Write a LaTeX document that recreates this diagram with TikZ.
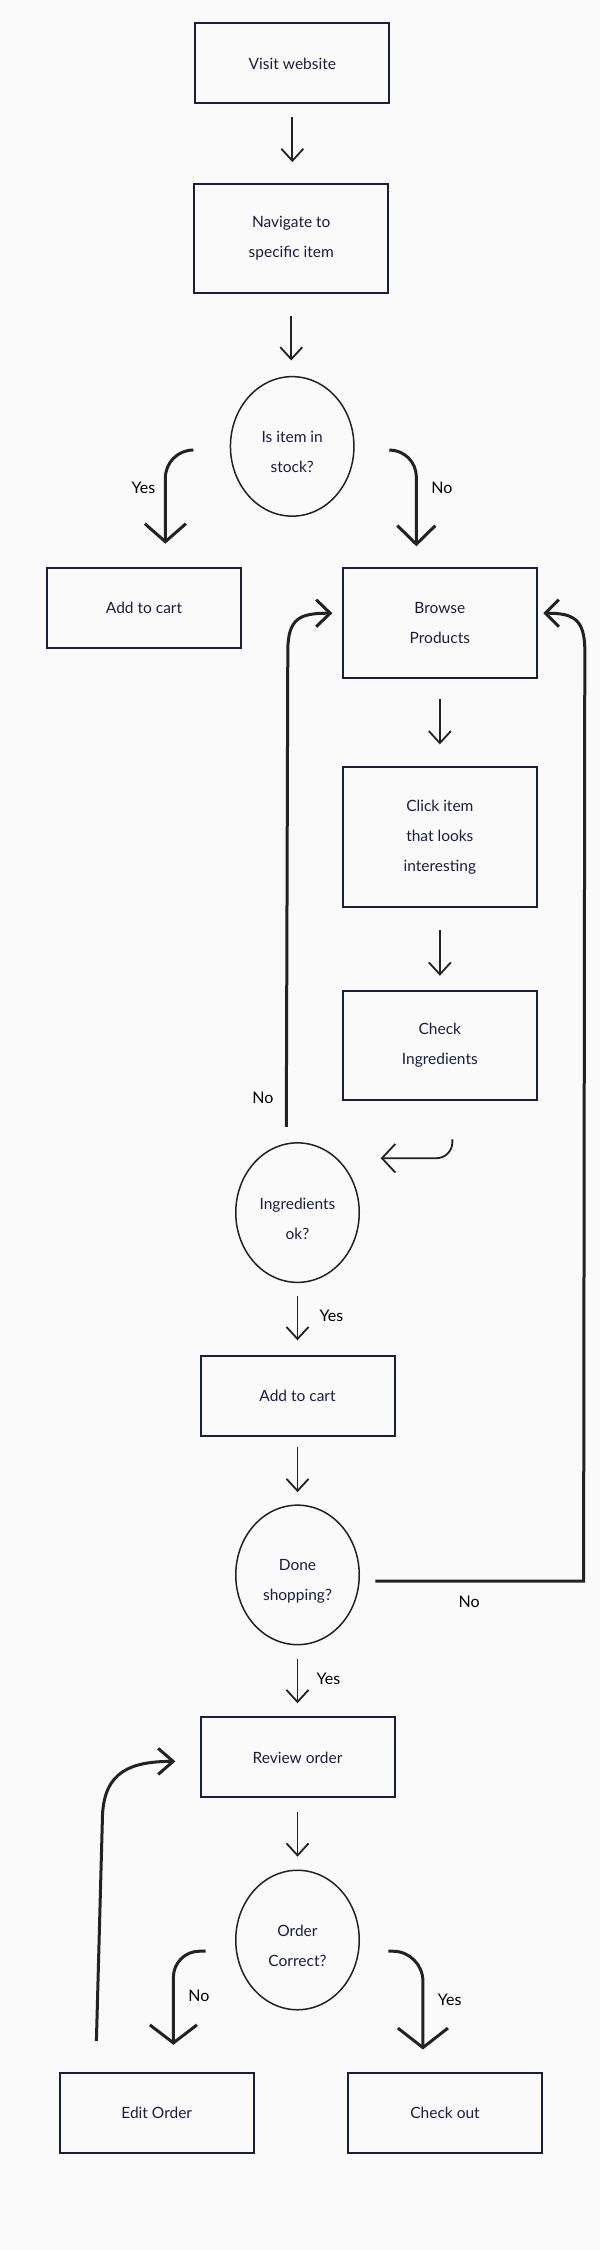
\documentclass[tikz,border=0pt]{standalone}
\usepackage{fontspec}
\setmainfont{Lato}
\usetikzlibrary{arrows.meta,calc,shapes.geometric}
\definecolor{bg}{HTML}{FAFAFA}
\definecolor{navy}{HTML}{1B1D3D}
\definecolor{ink}{HTML}{222222}
\begin{document}
\begin{tikzpicture}[x=1pt,y=-1pt,
  box/.style={draw=navy,line width=2pt,minimum width=194pt,minimum height=80pt,inner sep=0pt,text=navy,font=\fontsize{15.5}{30}\selectfont,align=center},
  dec/.style={draw=ink,line width=1.5pt,ellipse,minimum width=123.5pt,minimum height=139.5pt,inner sep=0pt},
  dectext/.style={text=navy,font=\fontsize{15.5}{30}\selectfont,align=center,inner sep=0pt},
  lbl/.style={text=black,font=\fontsize{16}{18}\selectfont,inner sep=0pt},
  thin/.style={draw=ink,line width=1.8pt,-{Straight Barb[length=12pt,width=22pt]}},
  thick/.style={draw=ink,line width=3pt}
]
\fill[bg] (0,0) rectangle (600,2250);
\useasboundingbox (0,0) rectangle (600,2250);

% boxes
\node[box] (visit) at (292.35,63.4) {Visit website};
\node[box,minimum height=109pt] (nav) at (291.25,238.6) {Navigate to\\specific item};
\node[box] (add1) at (144.05,607.7) {Add to cart};
\node[box,minimum height=110pt] (browse) at (439.85,622.7) {Browse\\Products};
\node[box,minimum height=140pt] (click) at (439.85,836.8) {Click item\\that looks\\interesting};
\node[box,minimum height=109pt] (check) at (439.85,1045.5) {Check\\Ingredients};
\node[box] (add2) at (297.55,1395.5) {Add to cart};
\node[box] (review) at (297.55,1757.45) {Review order};
\node[box] (edit) at (156.75,2113) {Edit Order};
\node[box] (checkout) at (445.05,2113) {Check out};

% decisions
\node[dec] (stock) at (292.2,446.4) {};
\node[dectext] (stockt) at ($(stock.center)+(0,6)$) {Is item in\\stock?};
\node[dec] (ingr) at (297.5,1212.6) {};
\node[dectext] (ingrt) at ($(ingr.center)+(0,6)$) {Ingredients\\ok?};
\node[dec] (done) at (297.5,1574.9) {};
\node[dectext] (donet) at ($(done.center)+(0,6)$) {Done\\shopping?};
\node[dec] (order) at (297.5,1940) {};
\node[dectext] (ordert) at ($(order.center)+(0,6)$) {Order\\Correct?};

% straight thin arrows
\draw[thin,shorten <=12.8pt,shorten >=21pt] (visit.south) -- (visit.south |- nav.north);
\draw[thin,shorten <=21.4pt,shorten >=15.4pt] (nav.south) -- (nav.south |- stock.north);
\draw[thin,shorten <=20.3pt,shorten >=21.4pt] (browse.south) -- (click.north);
\draw[thin,shorten <=22.5pt,shorten >=14.3pt] (click.south) -- (check.north);
\draw[thin,shorten <=12.5pt,shorten >=14.2pt] (ingr.south) -- (ingr.south |- add2.north);
\draw[thin,shorten <=10.7pt,shorten >=12.2pt] (add2.south) -- (add2.south |- done.north);
\draw[thin,shorten <=13.3pt,shorten >=13.2pt] (done.south) -- (done.south |- review.north);
\draw[thin,shorten <=13.3pt,shorten >=12.8pt] (review.south) -- (review.south |- order.north);

% free ends
\coordinate (sy) at ($(stock.west)+(-36.4,3.6)$);
\coordinate (sn) at ($(stock.east)+(36.2,3.6)$);
\coordinate (il) at ($(ingr.north)+(-11.2,-15.3)$);
\coordinate (tipL) at ($(browse.west)+(-9.5,-9.5)$);
\coordinate (dn) at ($(done.east)+(15.3,6.1)$);
\coordinate (tipR) at ($(browse.east)+(5.4,-9.5)$);
\coordinate (ci) at ($(check.south)+(12.5,38.3)$);
\coordinate (ed) at ($(edit.north)+(-60.35,-31.1)$);
\coordinate (tipE) at ($(review.west)+(-24.1,3.9)$);
\coordinate (on) at ($(order.west)+(-29.5,11.2)$);
\coordinate (oy) at ($(order.east)+(28.3,11.2)$);

% stock branches
\draw[thick,rounded corners=28pt,-{Straight Barb[length=18pt,width=41pt]}] (sy) -| ($(add1.north)+(21.3,-23)$);
\draw[thick,rounded corners=27pt,-{Straight Barb[length=18.6pt,width=38pt]}] (sn) -| ($(browse.north)+(-23.5,-20.4)$);
\node[lbl] (lyes1) at (143.5,488.2) {Yes};
\node[lbl] (lno1) at (442,488.2) {No};

% ingredients no loop
\draw[thick,-{Straight Barb[length=14pt,width=27pt]}] (il) -- (287.8,650) .. controls (288.2,618) and (300,613.2) .. (tipL);
\node[lbl] (lno2) at (263,1098) {No};

% check -> ingredients
\draw[draw=ink,line width=1.8pt,rounded corners=16pt,-{Straight Barb[length=13.4pt,width=28.6pt]}] (ci) |- ($(ingr.east)+(20.7,-54.4)$);

\node[lbl] (lyes2) at (331.4,1315.4) {Yes};

% done no loop
\draw[thick,-{Straight Barb[length=13.5pt,width=27pt]}] (dn) -- (583.6,1581) -- (584.8,650) .. controls (584.8,618) and (572,613.2) .. (tipR);
\node[lbl] (lno3) at (469.2,1601.4) {No};

\node[lbl] (lyes3) at (328.4,1678.9) {Yes};

% edit -> review loop
\draw[thick,-{Straight Barb[length=15pt,width=26pt]}] (ed) -- (102.5,1815) .. controls (104.5,1772) and (130,1761.4) .. (tipE);

% order branches
\draw[thick,rounded corners=26pt,-{Straight Barb[length=18pt,width=47pt]}] (on) -| ($(edit.north)+(16.65,-27.2)$);
\draw[thick,rounded corners=30pt,-{Straight Barb[length=19.5pt,width=50pt]}] (oy) -| ($(checkout.north)+(-22.15,-22.5)$);
\node[lbl] (lno4) at (199,1996) {No};
\node[lbl] (lyes4) at (449.7,2000) {Yes};
\end{tikzpicture}
\end{document}
